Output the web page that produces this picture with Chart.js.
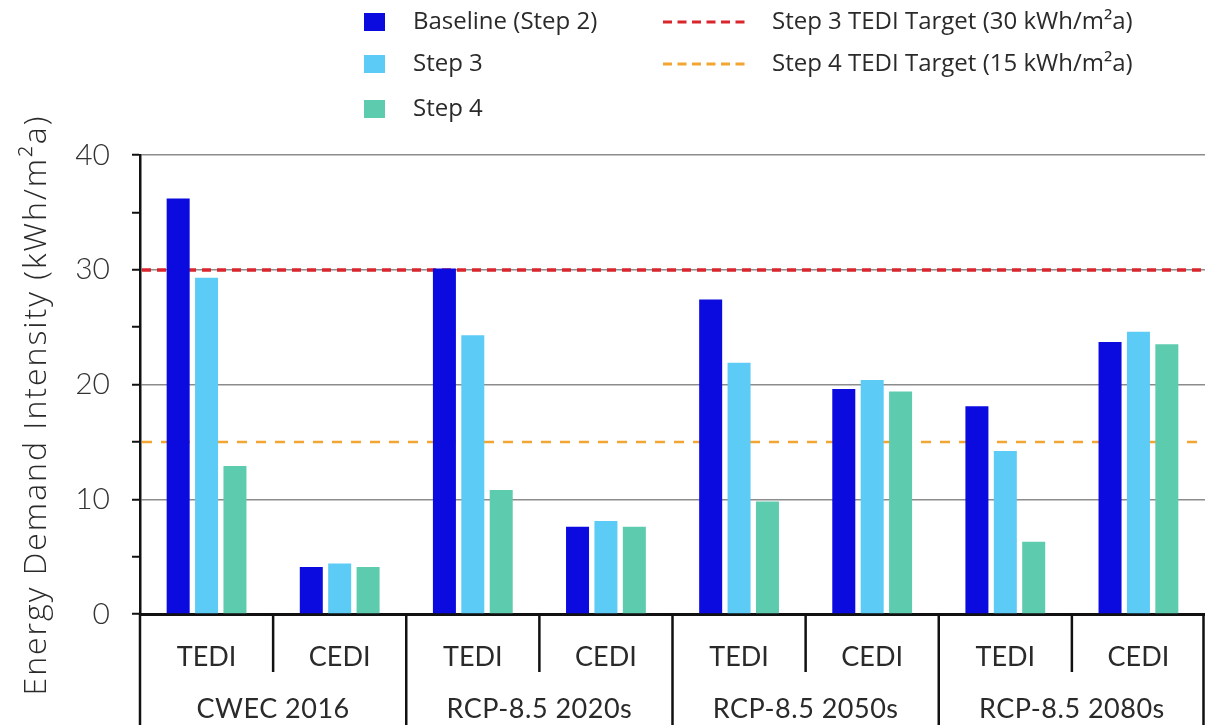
<!DOCTYPE html>
<html>
<head>
<meta charset="utf-8">
<script src="https://cdn.jsdelivr.net/npm/chart.js@4/dist/chart.umd.min.js"></script>
<style>
  html, body { margin: 0; padding: 0; background: #ffffff; }
  #wrap { width: 1205px; height: 725px; position: relative; }
</style>
</head>
<body>
<div id="wrap"><canvas id="chart" width="1205" height="725"></canvas></div>
<script>
// Scenario groups and the two intensity metrics shown under each
const scenarios = ['CWEC 2016', 'RCP-8.5 2020s', 'RCP-8.5 2050s', 'RCP-8.5 2080s'];
const metrics = ['TEDI', 'CEDI'];

// Values in kWh/m²a, ordered TEDI, CEDI for each scenario
const baseline = [36.2, 4.1, 30.1, 7.6, 27.4, 19.6, 18.1, 23.7];
const step3    = [29.3, 4.4, 24.3, 8.1, 21.9, 20.4, 14.2, 24.6];
const step4    = [12.9, 4.1, 10.8, 7.6, 9.8, 19.4, 6.3, 23.5];

// TEDI targets drawn as dashed reference lines
const targetLabels = ['Step 3 TEDI Target (30 kWh/m\u00B2a)', 'Step 4 TEDI Target (15 kWh/m\u00B2a)'];
const targetValues = [30, 15];

const yMin = 0, yMax = 40, yStep = 5, yLabelStep = 10;
const yTitle = 'Energy Demand Intensity (kWh/m\u00B2a)';

const categories = [];
scenarios.forEach(() => metrics.forEach(m => categories.push(m)));

const FONT = 'Lato, "Open Sans", sans-serif';
const WIDE = '"Open Sans", Lato, sans-serif';
const TEXT = '#2a2a2a';
const targetStyles = [
  { color: '#d9252b', width: 3.5, dash: [9, 6] },
  { color: '#f3a533', width: 2.5, dash: [10, 9] }
];

// Dashed target lines sit behind the bars
const targetLines = {
  id: 'targetLines',
  beforeDatasetsDraw(chart) {
    const { ctx, chartArea } = chart;
    const y = chart.scales.y;
    ctx.save();
    targetValues.forEach((v, i) => {
      const s = targetStyles[i];
      const py = Math.round(y.getPixelForValue(v));
      ctx.strokeStyle = s.color;
      ctx.lineWidth = s.width;
      ctx.setLineDash(s.dash);
      ctx.beginPath();
      ctx.moveTo(chartArea.left + 2, py);
      ctx.lineTo(chartArea.right, py);
      ctx.stroke();
    });
    ctx.restore();
  }
};

// Scenario dividers and labels under the metric ticks, plus the axis title and legend
const decorations = {
  id: 'decorations',
  afterDraw(chart) {
    const { ctx, chartArea } = chart;
    const x = chart.scales.x;
    const n = categories.length;
    const w = (chartArea.right - chartArea.left) / n;
    ctx.save();
    ctx.strokeStyle = '#111';
    ctx.lineWidth = 2.5;
    for (let i = 0; i <= n; i++) {
      let px = chartArea.left + i * w;
      if (i === n) px -= 1.5;
      ctx.beginPath();
      ctx.moveTo(px, chartArea.bottom);
      ctx.lineTo(px, i % 2 === 0 ? 725 : 672);
      ctx.stroke();
    }
    ctx.fillStyle = TEXT;
    ctx.font = '400 27px ' + FONT;
    ctx.letterSpacing = '0.5px';
    ctx.textAlign = 'center';
    ctx.textBaseline = 'middle';
    scenarios.forEach((s, g) => {
      const cx = (x.getPixelForValue(g * 2) + x.getPixelForValue(g * 2 + 1)) / 2;
      ctx.fillText(s, cx, 709);
    });

    // y-axis title
    ctx.save();
    ctx.translate(37, 405);
    ctx.rotate(-Math.PI / 2);
    ctx.font = '300 32px ' + WIDE;
    ctx.letterSpacing = '2px';
    ctx.fillStyle = TEXT;
    ctx.textAlign = 'center';
    ctx.textBaseline = 'middle';
    ctx.fillText(yTitle, 0, 0);
    ctx.restore();

    // legend: bar series in the first column, target lines in the second
    ctx.font = '400 24px ' + WIDE;
    ctx.letterSpacing = '0px';
    ctx.textAlign = 'left';
    ctx.textBaseline = 'middle';
    const rowY = [22, 64, 109];
    chart.data.datasets.forEach((ds, i) => {
      ctx.fillStyle = ds.backgroundColor;
      ctx.fillRect(364, rowY[i] - 9, 21, 18);
      ctx.fillStyle = TEXT;
      ctx.fillText(ds.label, 413, rowY[i]);
    });
    targetLabels.forEach((t, i) => {
      const s = targetStyles[i];
      ctx.strokeStyle = s.color;
      ctx.lineWidth = 3;
      ctx.setLineDash([9, 5.5]);
      ctx.beginPath();
      ctx.moveTo(663, rowY[i]);
      ctx.lineTo(749, rowY[i]);
      ctx.stroke();
      ctx.setLineDash([]);
      ctx.fillStyle = TEXT;
      ctx.fillText(t, 772, rowY[i]);
    });
    ctx.restore();
  }
};

new Chart(document.getElementById('chart'), {
  type: 'bar',
  data: {
    labels: categories,
    datasets: [
      { label: 'Baseline (Step 2)', data: baseline, backgroundColor: '#0b0be0' },
      { label: 'Step 3', data: step3, backgroundColor: '#5ccbf6' },
      { label: 'Step 4', data: step4, backgroundColor: '#5ccbae' }
    ]
  },
  options: {
    responsive: false,
    animation: false,
    devicePixelRatio: 1,
    layout: { padding: { top: 155, left: 0, right: 0, bottom: 0 } },
    datasets: { bar: { categoryPercentage: 0.64, barPercentage: 0.81 } },
    plugins: { legend: { display: false }, tooltip: { enabled: false } },
    scales: {
      x: {
        grid: { display: false },
        border: { display: true, color: '#111', width: 3 },
        ticks: { color: TEXT, font: { family: FONT, size: 27, weight: '400' }, padding: 19, maxRotation: 0 },
        afterFit(scale) { scale.height = 111; }
      },
      y: {
        min: yMin,
        max: yMax,
        border: { display: true, color: '#111', width: 2.5 },
        grid: {
          color: c => (c.tick && c.tick.value % yLabelStep === 0 ? '#8c8c8c' : 'rgba(0,0,0,0)'),
          lineWidth: 1.5,
          drawTicks: true,
          tickLength: 8,
          tickColor: '#111',
          tickWidth: 2
        },
        ticks: {
          stepSize: yStep,
          padding: 22,
          color: '#333',
          font: { family: FONT, size: 30, weight: '300' },
          callback: v => (v % yLabelStep === 0 ? String(v) : '')
        },
        afterFit(scale) { scale.width = 140; }
      }
    }
  },
  plugins: [targetLines, decorations]
});
</script>
</body>
</html>
